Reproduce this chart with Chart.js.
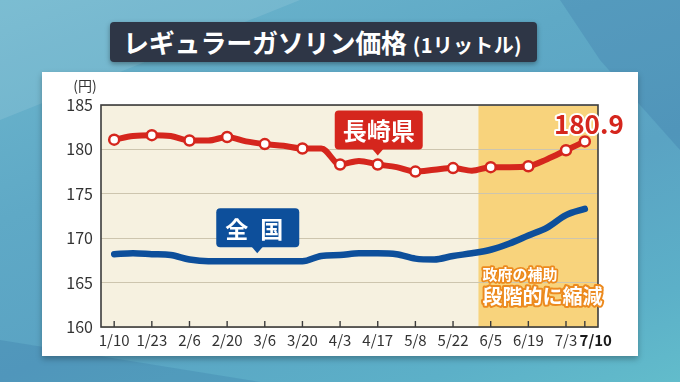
<!DOCTYPE html>
<html><head><meta charset="utf-8">
<script src="https://cdn.jsdelivr.net/npm/chart.js@4/dist/chart.umd.min.js"></script>
<style>
html,body{margin:0;padding:0;}
body{width:680px;height:382px;overflow:hidden;position:relative;
 background:linear-gradient(160deg,#6db6cd 0%,#5fa9c6 35%,#5aa3c3 60%,#5cb0c8 85%,#62bccb 100%);
 font-family:"Noto Sans CJK JP","Noto Sans",sans-serif;}
.facet1{position:absolute;left:0;top:0;width:680px;height:382px;background:rgba(40,90,150,0.18);clip-path:polygon(560px 0,680px 0,680px 150px,600px 60px);}
.facet2{position:absolute;left:0;top:0;width:680px;height:382px;background:rgba(255,255,255,0.10);clip-path:polygon(0 0,300px 0,0 120px);}
.facet3{position:absolute;left:0;top:0;width:680px;height:382px;background:rgba(30,80,140,0.15);clip-path:polygon(0 340px,260px 382px,0 382px);}
.panel{position:absolute;left:42px;top:72px;width:596px;height:284px;background:#fff;box-shadow:0 3px 6px rgba(0,0,0,0.28);}
.title{position:absolute;left:110px;top:22px;width:427px;height:40px;background:#2e3646;border-radius:4px;
 box-shadow:0 2px 5px rgba(0,0,0,0.35);color:#fff;font-weight:700;white-space:nowrap;line-height:40px;}
.title .main{font-size:26px;margin-left:13px;letter-spacing:-0.2px;}
.title .sub{font-size:20px;margin-left:6px;letter-spacing:0.3px;}
canvas{position:absolute;left:0;top:0;}
</style></head>
<body>
<div class="facet1"></div><div class="facet2"></div><div class="facet3"></div>
<div class="panel"></div>
<div class="title"><span class="main">レギュラーガソリン価格</span><span class="sub">(1リットル)</span></div>
<canvas id="c" width="680" height="382"></canvas>
<script>
// ---- data ----
const dates = ['1/10','1/16','1/23','1/30','2/6','2/13','2/20','2/27','3/6','3/13','3/20','3/27','4/3','4/10','4/17','4/24','5/8','5/15','5/22','5/29','6/5','6/12','6/19','6/26','7/3','7/10'];
const xTickLabels = ['1/10','1/23','2/6','2/20','3/6','3/20','4/3','4/17','5/8','5/22','6/5','6/19','7/3','7/10'];
const nagasaki = [181.1,181.5,181.6,181.5,181.0,181.0,181.4,180.9,180.6,180.4,180.1,180.1,178.3,178.7,178.3,178.0,177.5,177.7,177.9,177.6,178.0,178.0,178.1,178.9,179.9,180.9];
const national = [168.2,168.3,168.2,168.1,167.6,167.4,167.4,167.4,167.4,167.4,167.4,168.0,168.1,168.3,168.3,168.2,167.7,167.6,168.0,168.3,168.7,169.4,170.3,171.2,172.6,173.3];
const yTicks = [160,165,170,175,180,185];
const subsidyStart = 19.35; // shaded period begins (between 5/29 and 6/5)
const latestLabel = '180.9';

const RED = '#d5261d', BLUE = '#0d4f9b', FONT = '"Noto Sans CJK JP","Noto Sans",sans-serif';
const isLast = c => !!(c && c.tick && dates[c.tick.value] === '7/10');

function callout(ctx, tipX, tipY, w, h, leftOff, color) {
  const left = tipX - leftOff, top = tipY - 6 - h;
  ctx.fillStyle = color;
  ctx.beginPath();
  ctx.roundRect(left, top, w, h, 4);
  ctx.fill();
  ctx.beginPath();
  ctx.moveTo(tipX - 6, top + h - 1);
  ctx.lineTo(tipX + 6, top + h - 1);
  ctx.lineTo(tipX, tipY);
  ctx.closePath();
  ctx.fill();
  return {cx: left + w / 2, cy: top + h / 2};
}
function outlined(ctx, text, x, y, font, fill, stroke, sw) {
  ctx.font = font;
  ctx.lineJoin = 'round';
  ctx.strokeStyle = stroke; ctx.lineWidth = sw;
  ctx.strokeText(text, x, y);
  ctx.fillStyle = fill;
  ctx.fillText(text, x, y);
}

const deco = {
  id: 'deco',
  beforeDraw(chart) {
    const {ctx, chartArea: a, scales: {x}} = chart;
    ctx.save();
    ctx.fillStyle = '#f6f1e0';
    ctx.fillRect(a.left, a.top, a.width, a.height);
    const sx = x.getPixelForValue(subsidyStart);
    ctx.fillStyle = '#f8d37c';
    ctx.fillRect(sx, a.top, a.right - sx, a.height);
    ctx.restore();
  },
  beforeDatasetsDraw(chart) {
    const {ctx, chartArea: a, scales: {x, y}} = chart;
    ctx.save();
    ctx.strokeStyle = '#3c3c3c'; ctx.lineWidth = 1.6;
    ctx.strokeRect(a.left, a.top, a.width, a.height);
    ctx.lineWidth = 1.4;
    x.ticks.forEach(t => {
      const px = x.getPixelForValue(t.value);
      ctx.beginPath(); ctx.moveTo(px, a.bottom); ctx.lineTo(px, a.bottom - 6); ctx.stroke();
    });
    ctx.fillStyle = '#333'; ctx.font = '14px ' + FONT;
    ctx.textAlign = 'center'; ctx.textBaseline = 'middle';
    ctx.fillText('(円)', a.left - 16, y.getPixelForValue(185) - 19);
    ctx.restore();
  },
  afterDatasetsDraw(chart) {
    const {ctx, scales: {x, y}} = chart;
    ctx.save();
    ctx.textAlign = 'center'; ctx.textBaseline = 'middle';
    // 長崎県
    let c = callout(ctx, x.getPixelForValue(14), y.getPixelForValue(nagasaki[14]) - 9, 88, 39, 43, RED);
    ctx.fillStyle = '#fff'; ctx.font = 'bold 24px ' + FONT;
    ctx.fillText('長崎県', c.cx, c.cy + 1);
    // 全国
    c = callout(ctx, x.getPixelForValue(7.6), y.getPixelForValue(national[7]) - 8, 83, 39, 41, BLUE);
    ctx.fillStyle = '#fff'; ctx.font = 'bold 23px ' + FONT;
    ctx.fillText('全', c.cx - 21, c.cy + 1);
    ctx.fillText('国', c.cx + 14, c.cy + 1);
    // latest value
    const last = nagasaki.length - 1;
    outlined(ctx, latestLabel, x.getPixelForValue(last) + 4, y.getPixelForValue(nagasaki[last]) - 17,
      'bold 26px ' + FONT, RED, '#fff', 4);
    // subsidy note
    ctx.textAlign = 'left';
    const sx = x.getPixelForValue(subsidyStart) + 4;
    outlined(ctx, '政府の補助', sx, y.getPixelForValue(165.9), 'bold 15px ' + FONT, '#fff', '#ec8a1e', 3.5);
    outlined(ctx, '段階的に縮減', sx, y.getPixelForValue(163.5), 'bold 20px ' + FONT, '#fff', '#ec8a1e', 4);
    ctx.restore();
  }
};

new Chart(document.getElementById('c'), {
  type: 'line',
  data: {
    labels: dates,
    datasets: [
      {
        label: '長崎県',
        data: nagasaki.map((v, i) => ({x: i, y: v})),
        borderColor: RED, borderWidth: 6,
        cubicInterpolationMode: 'monotone',
        borderCapStyle: 'round', borderJoinStyle: 'round',
        pointRadius: ctx => (ctx.dataIndex % 2 === 0 || ctx.dataIndex === nagasaki.length - 1) ? 5 : 0,
        pointBackgroundColor: '#fff', pointBorderColor: RED, pointBorderWidth: 2.5,
        pointHoverRadius: 0
      },
      {
        label: '全国',
        data: national.map((v, i) => ({x: i, y: v})),
        borderColor: BLUE, borderWidth: 6.5,
        cubicInterpolationMode: 'monotone',
        borderCapStyle: 'round', borderJoinStyle: 'round',
        pointRadius: 0, pointHoverRadius: 0
      }
    ]
  },
  options: {
    responsive: false, animation: false, devicePixelRatio: 1,
    layout: {padding: {top: 105, right: 82, bottom: 0, left: 0}},
    plugins: {legend: {display: false}, tooltip: {enabled: false}},
    scales: {
      x: {
        type: 'linear', min: -0.7, max: 25.7,
        afterBuildTicks: s => { s.ticks = xTickLabels.map(l => ({value: dates.indexOf(l)})); },
        afterFit: s => { s.height = 55; },
        grid: {display: false, drawTicks: false},
        border: {display: false},
        ticks: {
          autoSkip: false, maxRotation: 0, padding: 4,
          color: c => isLast(c) ? '#1a1a1a' : '#333',
          font: c => ({family: FONT, size: 15, weight: isLast(c) ? 'bold' : 'normal'}),
          callback: v => dates[v] === '7/10' ? '\u3000  7/10' : dates[v]
        }
      },
      y: {
        min: 160, max: 185,
        afterBuildTicks: s => { s.ticks = yTicks.map(v => ({value: v})); },
        afterFit: s => { s.width = 101; },
        grid: {color: '#cdc5ae', lineWidth: 1, drawTicks: false},
        border: {display: false},
        ticks: {padding: 8, color: '#333', font: {family: FONT, size: 16}}
      }
    }
  },
  plugins: [deco]
});
</script>
</body></html>
